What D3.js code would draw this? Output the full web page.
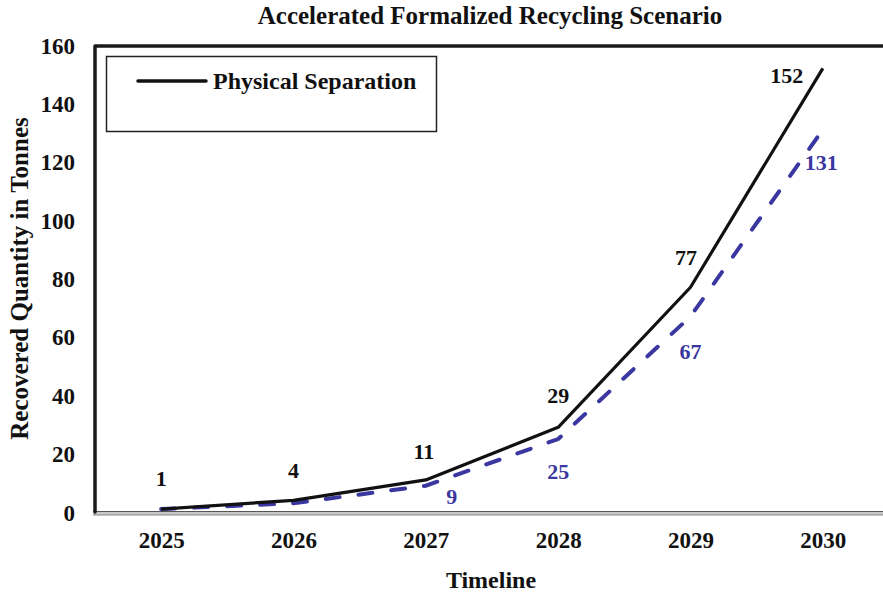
<!DOCTYPE html>
<html>
<head>
<meta charset="utf-8">
<script src="https://cdn.jsdelivr.net/npm/d3@7"></script>
<style>
  html, body { margin: 0; padding: 0; background: #fff; overflow: hidden; }
  svg { display: block; }
  text { font-family: "Liberation Serif", "Times New Roman", serif; font-weight: bold; }
</style>
</head>
<body>
<svg id="chart" width="883" height="592"></svg>
<script>
// Recovered quantities (tonnes) per year
const years = ["2025", "2026", "2027", "2028", "2029", "2030"];
const physicalSeparation = [1, 4, 11, 29, 77, 152];
const secondSeries = [1, 3, 9, 25, 67, 131];
// which points of each series carry a value label
const physicalLabelled = [true, true, true, true, true, true];
const secondLabelled = [false, false, true, true, true, true];
const yTicks = [0, 20, 40, 60, 80, 100, 120, 140, 160];

const svg = d3.select("#chart");
const plotLeft = 95, plotRight = 889, plotTop = 45, plotBottom = 512;
const black = "#111";
const blue = "#3b37a0";

const x = d3.scalePoint().domain(years).range([plotLeft, plotRight]).padding(0.5);
const y = d3.scaleLinear().domain([0, 160]).range([plotBottom, plotTop]);

// title
svg.append("text")
  .attr("x", 490).attr("y", 23.5)
  .attr("text-anchor", "middle")
  .style("font-size", "25px")
  .attr("fill", black)
  .text("Accelerated Formalized Recycling Scenario");

// y axis labels (no tick marks)
const yAxis = d3.axisLeft(y).tickValues(yTicks).tickSize(0).tickPadding(0);
const gy = svg.append("g").attr("transform", "translate(75,0)").call(yAxis);
gy.select(".domain").remove();
gy.selectAll("text")
  .style("font-size", "23px")
  .style("font-family", "'Liberation Serif', serif")
  .style("font-weight", "bold")
  .attr("fill", black)
  .attr("dy", "0.35em");

// x axis labels
const xAxis = d3.axisBottom(x).tickSize(0).tickPadding(0);
const gx = svg.append("g").attr("transform", "translate(0,532)").call(xAxis);
gx.select(".domain").remove();
gx.selectAll("text")
  .style("font-size", "23px")
  .style("font-family", "'Liberation Serif', serif")
  .style("font-weight", "bold")
  .attr("fill", black)
  .attr("dy", "0.71em");

// bottom axis: double grey rule
svg.append("rect")
  .attr("x", plotLeft - 2).attr("y", plotBottom - 1)
  .attr("width", plotRight - plotLeft + 2).attr("height", 4)
  .attr("fill", "#c8c8c8");
svg.append("line")
  .attr("x1", plotLeft - 2).attr("x2", plotRight).attr("y1", plotBottom - 0.5).attr("y2", plotBottom - 0.5)
  .attr("stroke", "#555").attr("stroke-width", 1);
svg.append("line")
  .attr("x1", plotLeft - 2).attr("x2", plotRight).attr("y1", plotBottom + 3).attr("y2", plotBottom + 3)
  .attr("stroke", "#888").attr("stroke-width", 1);

// heavy left and top frame
svg.append("path")
  .attr("d", `M${plotLeft},${plotBottom} L${plotLeft},${plotTop + 1} L${plotRight},${plotTop + 1}`)
  .attr("fill", "none")
  .attr("stroke", "#1a1a1a")
  .attr("stroke-width", 3.5)
  .attr("stroke-linejoin", "round")
  .attr("stroke-linecap", "round");

// axis titles
svg.append("text")
  .attr("x", 491).attr("y", 588)
  .attr("text-anchor", "middle")
  .style("font-size", "24px")
  .attr("fill", black)
  .text("Timeline");

svg.append("text")
  .attr("transform", "translate(28,278.5) rotate(-90)")
  .attr("text-anchor", "middle")
  .style("font-size", "25px")
  .attr("fill", black)
  .text("Recovered Quantity in Tonnes");

// series lines
const line = d3.line().x((d, i) => x(years[i])).y(d => y(d));

svg.append("path")
  .datum(secondSeries)
  .attr("d", line)
  .attr("fill", "none")
  .attr("stroke", blue)
  .attr("stroke-width", 4)
  .attr("stroke-dasharray", "14 19")
  .attr("stroke-linecap", "round");

svg.append("path")
  .datum(physicalSeparation)
  .attr("d", line)
  .attr("fill", "none")
  .attr("stroke", black)
  .attr("stroke-width", 3.2)
  .attr("stroke-linejoin", "round");

// value labels
const physOffsets = [[0, -31], [0, -30], [-2, -29], [0, -32], [-4.5, -30], [-36, 7]];
const secondOffsets = [[0, 0], [0, 0], [26, 11], [0, 32], [0, 35], [-1.5, 33]];

svg.append("g").selectAll("text")
  .data(physicalSeparation.map((v, i) => ({ v, i })).filter(d => physicalLabelled[d.i]))
  .join("text")
  .attr("x", d => x(years[d.i]) + physOffsets[d.i][0])
  .attr("y", d => y(d.v) + physOffsets[d.i][1])
  .attr("dy", "0.35em")
  .attr("text-anchor", "middle")
  .style("font-size", "22px")
  .attr("fill", black)
  .text(d => d.v);

svg.append("g").selectAll("text")
  .data(secondSeries.map((v, i) => ({ v, i })).filter(d => secondLabelled[d.i]))
  .join("text")
  .attr("x", d => x(years[d.i]) + secondOffsets[d.i][0])
  .attr("y", d => y(d.v) + secondOffsets[d.i][1])
  .attr("dy", "0.35em")
  .attr("text-anchor", "middle")
  .style("font-size", "22px")
  .attr("fill", blue)
  .text(d => d.v);

// legend
const legend = svg.append("g");
legend.append("rect")
  .attr("x", 106.5).attr("y", 56.5)
  .attr("width", 330).attr("height", 75)
  .attr("fill", "#fff")
  .attr("stroke", "#222")
  .attr("stroke-width", 1.5);
legend.append("line")
  .attr("x1", 138).attr("x2", 206).attr("y1", 81).attr("y2", 81)
  .attr("stroke", black)
  .attr("stroke-width", 3.5)
  .attr("stroke-linecap", "round");
legend.append("text")
  .attr("x", 213).attr("y", 89)
  .style("font-size", "24px")
  .attr("fill", black)
  .text("Physical Separation");
</script>
</body>
</html>
